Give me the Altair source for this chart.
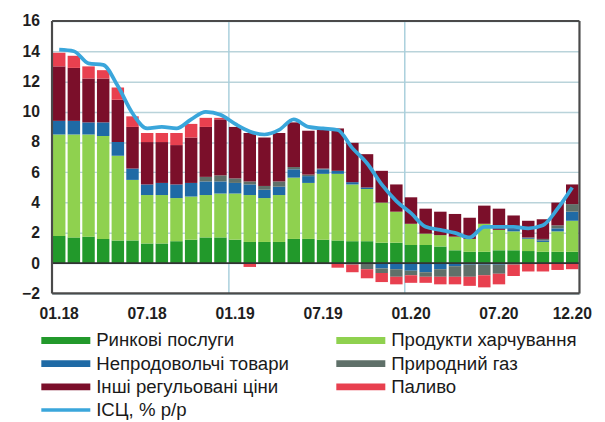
import altair as alt
import pandas as pd

MONTHS = [f"{m:02d}.{y}" for y in ("18", "19", "20") for m in range(1, 13)]

MARKET = [1.8, 1.7, 1.75, 1.6, 1.5, 1.5, 1.3, 1.3, 1.45, 1.55, 1.7, 1.7,
          1.55, 1.4, 1.4, 1.4, 1.6, 1.6, 1.55, 1.5, 1.45, 1.45, 1.35, 1.35,
          1.2, 1.2, 1.1, 0.85, 0.75, 0.75, 0.85, 0.85, 0.8, 0.75, 0.75, 0.75]
FOOD = [6.7, 6.8, 6.75, 6.8, 5.6, 4.0, 3.2, 3.2, 2.85, 2.85, 2.8, 2.9,
        3.05, 3.1, 2.9, 3.1, 4.05, 3.7, 4.35, 4.4, 3.75, 3.45, 2.65, 2.05,
        1.4, 0.75, 0.75, 0.9, 0.85, 1.85, 1.35, 1.25, 0.8, 0.65, 1.35, 2.05]
NONFOOD = [0.9, 0.9, 0.8, 0.9, 0.9, 0.75, 0.7, 0.8, 0.9, 0.9, 0.9, 0.8,
           0.7, 0.7, 0.55, 0.55, 0.55, 0.45, 0.3, 0.2, 0.15, 0.1, -0.35, -0.4,
           -0.5, -0.6, -0.4, -0.2, -0.1, -0.1, -0.1, 0.15, 0.05, 0.1, 0.2, 0.6]
GAS = [0, 0, 0, 0, 0, 0, 0, 0, 0, 0, 0.3, 0.4,
       0.3, 0.2, 0.25, 0.35, 0.15, 0.1, 0.05, 0, -0.1, -0.4, -0.3, -0.5,
       -0.3, -0.3, -0.5, -0.7, -0.8, -0.7, -0.6, -0.1, 0.05, 0.1, 0.2, 0.5]
OTHER = [3.6, 3.5, 2.9, 2.9, 2.8, 2.75, 2.8, 2.7, 2.6, 3.0, 3.3, 3.7,
         3.4, 3.2, 3.2, 3.2, 2.95, 2.9, 2.55, 2.8, 2.6, 2.2, 2.1, 1.8,
         1.75, 1.65, 1.55, 1.5, 1.4, 1.2, 1.4, 0.9, 1.1, 1.3, 1.5, 1.3]
FUEL = [0.9, 0.8, 0.8, 0.55, 0.8, 0.7, 0.6, 0.6, 0.8, 0.9, 0.6, 0.1,
        0, -0.25, 0, 0, 0, 0, 0, -0.3, -0.5, -0.6, -0.6, -0.5,
        -0.5, -0.4, -0.5, -0.5, -0.6, -0.8, -0.7, -0.75, -0.55, -0.55, -0.45, -0.4]
CPI = [14.1, 14.0, 13.2, 13.1, 11.7, 9.9, 8.9, 9.0, 8.9, 9.5, 10.0, 9.8,
       9.2, 8.7, 8.5, 8.8, 9.5, 9.0, 8.9, 8.8, 7.6, 6.6, 5.2, 4.1,
       3.3, 2.4, 2.2, 2.0, 1.7, 2.4, 2.4, 2.4, 2.3, 2.5, 3.6, 5.0]

SERIES = ["Ринкові послуги", "Продукти харчування", "Непродовольчі товари",
          "Природний газ", "Інші регульовані ціни", "Паливо"]
SERIES_VALUES = [MARKET, FOOD, NONFOOD, GAS, OTHER, FUEL]
CPI_NAME = "ІСЦ, % р/р"

TICK_LABELS = ["01.18", "07.18", "01.19", "07.19", "01.20", "07.20", "12.20"]
YEAR_LINES = ["01.19", "01.20"]
Y_TICKS = [-2, 0, 2, 4, 6, 8, 10, 12, 14, 16]
Y_RANGE = [-2, 16]

COLORS = {
    "Ринкові послуги": "#22992b",
    "Продукти харчування": "#8fd14f",
    "Непродовольчі товари": "#1f6aa5",
    "Природний газ": "#5f7069",
    "Інші регульовані ціни": "#7b0f2a",
    "Паливо": "#e8404f",
    CPI_NAME: "#3aa6db",
}
LEGEND_ORDER = ["Ринкові послуги", "Продукти харчування", "Непродовольчі товари",
                "Природний газ", "Інші регульовані ціни", "Паливо", CPI_NAME]

FONT = "Liberation Sans"
FRAME_COLOR = "#4a4a4a"

rows = []
for k, (name, vals) in enumerate(zip(SERIES, SERIES_VALUES)):
    for m, v in zip(MONTHS, vals):
        rows.append({"month": m, "series": name, "value": v, "order": k})
bars_df = pd.DataFrame(rows)
cpi_df = pd.DataFrame({"month": MONTHS, "cpi": CPI})
legend_df = pd.DataFrame({
    "name": LEGEND_ORDER,
    "col": [i % 2 for i in range(len(LEGEND_ORDER))],
    "row": [i // 2 for i in range(len(LEGEND_ORDER))],
    "kind": ["bar"] * 6 + ["line"],
})

color_scale = alt.Scale(domain=LEGEND_ORDER, range=[COLORS[n] for n in LEGEND_ORDER])

x_scale = alt.Scale(domain=MONTHS, paddingInner=0.15, paddingOuter=0.06)
x_axis = alt.Axis(title=None, labelAngle=0, values=TICK_LABELS, ticks=False,
                  labelPadding=13, labelFontSize=16, labelFont=FONT,
                  labelFontWeight="bold", labelColor="#1e1e1e", domain=False,
                  grid=False)
y_scale = alt.Scale(domain=Y_RANGE, nice=False, zero=False)
y_axis = alt.Axis(title=None, values=Y_TICKS, ticks=False, domain=False,
                  grid=True, gridColor="#b9d3da", gridWidth=1.5,
                  labelPadding=13, minExtent=40, labelFontSize=16,
                  labelFont=FONT, labelFontWeight="bold", labelColor="#1e1e1e")

vgrid = alt.Chart(pd.DataFrame({"month": YEAR_LINES})).mark_rule(
    color="#a9cfdc", strokeWidth=1.5
).encode(x=alt.X("month:O", scale=x_scale, axis=x_axis, bandPosition=0))

bars = alt.Chart(bars_df).mark_bar().encode(
    x=alt.X("month:O", scale=x_scale, axis=x_axis),
    y=alt.Y("value:Q", stack="zero", scale=y_scale, axis=y_axis),
    color=alt.Color("series:N", scale=color_scale, legend=None),
    order=alt.Order("order:Q", sort="ascending"),
)

zero = alt.Chart(pd.DataFrame({"v": [0]})).mark_rule(
    color="#333333", strokeWidth=1.6
).encode(y=alt.Y("v:Q", scale=y_scale, axis=y_axis))

# plot frame: horizontal rules at the y-domain ends, vertical at the outer band edges
hframe = alt.Chart(pd.DataFrame({"v": Y_RANGE})).mark_rule(
    color=FRAME_COLOR, strokeWidth=2.2
).encode(y=alt.Y("v:Q", scale=y_scale, axis=y_axis))
vframe_l = alt.Chart(pd.DataFrame({"month": [MONTHS[0]]})).mark_rule(
    color=FRAME_COLOR, strokeWidth=2.2, xOffset=-1
).encode(x=alt.X("month:O", scale=x_scale, axis=x_axis, bandPosition=0))
vframe_r = alt.Chart(pd.DataFrame({"month": [MONTHS[-1]]})).mark_rule(
    color=FRAME_COLOR, strokeWidth=2.2, xOffset=1
).encode(x=alt.X("month:O", scale=x_scale, axis=x_axis, bandPosition=1))

line = alt.Chart(cpi_df).mark_line(
    color=COLORS[CPI_NAME], strokeWidth=3.8, interpolate="monotone"
).encode(
    x=alt.X("month:O", scale=x_scale, axis=x_axis),
    y=alt.Y("cpi:Q", scale=y_scale, axis=y_axis),
)

main = alt.layer(vgrid, bars, zero, hframe, vframe_l, vframe_r, line)

lx = alt.X("col:Q", scale=alt.Scale(domain=[0, 1], range=[-11, 290]), axis=None)
ly = alt.Y("row:Q", scale=alt.Scale(domain=[0, 3], range=[326, 397]), axis=None)
leg_base = alt.Chart(legend_df)
leg_bar = leg_base.transform_filter(alt.datum.kind == "bar").mark_rule(
    strokeWidth=7, x2Offset=50
).encode(x=lx, x2=alt.X2("col"), y=ly,
         color=alt.Color("name:N", scale=color_scale, legend=None))
leg_line = leg_base.transform_filter(alt.datum.kind == "line").mark_rule(
    strokeWidth=3.5, x2Offset=50
).encode(x=lx, x2=alt.X2("col"), y=ly,
         color=alt.Color("name:N", scale=color_scale, legend=None))
leg_text = leg_base.mark_text(
    align="left", baseline="middle", dx=56, fontSize=19, font=FONT, color="#1a1a1a"
).encode(x=lx, y=ly, text="name:N")
legend = alt.layer(leg_bar, leg_line, leg_text)

chart = alt.layer(main, legend).resolve_scale(
    x="independent", y="independent"
).properties(
    width=538, height=278,
    padding={"left": 5, "top": 1, "right": 5, "bottom": 0},
).configure(
    font=FONT, background="white"
)

chart.save("out.html", embed_options={"renderer": "svg", "actions": False})
